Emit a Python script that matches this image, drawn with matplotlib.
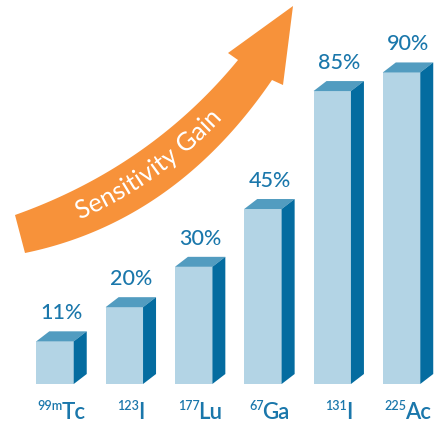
import numpy as np
import matplotlib
matplotlib.use('Agg')
import matplotlib.pyplot as plt
from matplotlib.patches import Polygon, PathPatch
from matplotlib.path import Path
from matplotlib.textpath import TextPath
from matplotlib.font_manager import FontProperties
from matplotlib.transforms import offset_copy

# data
isotopes = ['Tc', 'I', 'Lu', 'Ga', 'I', 'Ac']
mass_numbers = ['99m', '123', '177', '67', '131', '225']
gain_pct = [11, 20, 30, 45, 85, 90]
# heights as drawn (the two tallest bars are squeezed in the original)
bar_heights = [11, 19.8, 30.2, 45.1, 75.5, 80.3]

FRONT = '#b3d4e5'
TOP = '#529cc0'
SIDE = '#046ca0'
TEXT = '#1a77ab'
ORANGE = '#f7923a'
FONT = 'Lato'

plt.rcParams['font.family'] = [FONT, 'DejaVu Sans']

fig = plt.figure(figsize=(4.35, 4.23), dpi=100)
ax = fig.add_axes([0, 0, 1, 1])
ax.set_xlim(-0.794, 5.483)
ax.set_ylim(-10.05, 98.97)
ax.axis('off')

px_x = 435 / (5.483 + 0.794)   # pixels per x unit
px_y = 423 / (98.97 + 10.05)   # pixels per y unit
dx = 13 / px_x                 # depth of the fake 3d box
dy = 10 / px_y

x = np.arange(len(isotopes))
bars = ax.bar(x, bar_heights, width=0.54, color=FRONT, linewidth=0, zorder=2)

for rect, pct in zip(bars, gain_pct):
    x0 = rect.get_x()
    x1 = x0 + rect.get_width()
    h = rect.get_height()
    ax.add_patch(Polygon([(x0, h), (x1, h), (x1 + dx, h + dy), (x0 + dx, h + dy)],
                         closed=True, color=TOP, lw=0, zorder=2))
    ax.add_patch(Polygon([(x1, 0), (x1 + dx, dy), (x1 + dx, h + dy), (x1, h)],
                         closed=True, color=SIDE, lw=0, zorder=2))
    ax.text((x0 + x1 + dx) / 2, h + dy + 12 / px_y, f'{pct}%', ha='center',
            va='baseline', fontsize=15.5, fontweight=500, color=TEXT)

# isotope labels with small superscript mass numbers
renderer = fig.canvas.get_renderer()
base_y = -35 / px_y
gap = -1.5
for rect, sup, name in zip(bars, mass_numbers, isotopes):
    cx = rect.get_x() + (rect.get_width() + dx) / 2
    t_sup = ax.text(cx, base_y, sup, ha='left', va='baseline', fontsize=9,
                    fontweight=600, color=TEXT)
    t_main = ax.text(cx, base_y, name, ha='left', va='baseline', fontsize=16,
                     fontweight=600, color=TEXT)
    w_s = t_sup.get_window_extent(renderer).width
    w_m = t_main.get_window_extent(renderer).width
    total = w_s + gap + w_m
    t_sup.set_transform(offset_copy(ax.transData, fig=fig, x=-total / 2, y=9.5, units='dots'))
    t_main.set_transform(offset_copy(ax.transData, fig=fig, x=-total / 2 + w_s + gap, y=0,
                                     units='dots'))

# orange arrow, drawn in pixel space
ax2 = fig.add_axes([0, 0, 1, 1])
ax2.set_xlim(0, 435)
ax2.set_ylim(423, 0)
ax2.axis('off')
ax2.patch.set_visible(False)


def bez(p0, p1, p2, t):
    t = t[:, None]
    return (1 - t) ** 2 * np.array(p0) + 2 * t * (1 - t) * np.array(p1) + t ** 2 * np.array(p2)


t = np.linspace(0, 1, 200)
upper = bez((15, 215), (150, 167), (238, 60), t)
lower = bez((25, 253), (175, 222), (272, 80), t)
head = np.array([(228, 53), (293, 6), (283, 85)])
outline = np.vstack([upper, head, lower[::-1]])
ax2.add_patch(Polygon(outline, closed=True, color=ORANGE, lw=0))

# "Sensitivity Gain" bent along the middle of the arrow
mid = bez((20, 234), (162.5, 194.5), (255, 70), np.linspace(0, 1, 800))
seg = np.diff(mid, axis=0)
cum = np.concatenate([[0], np.cumsum(np.hypot(seg[:, 0], seg[:, 1]))])
tang = np.gradient(mid, axis=0)
tang /= np.hypot(tang[:, 0], tang[:, 1])[:, None]

tp = TextPath((0, 0), 'Sensitivity Gain', size=100, prop=FontProperties(family=FONT))
verts = tp.vertices / 100.0
umin, umax = verts[:, 0].min(), verts[:, 0].max()
text_len = 172
S = text_len / (umax - umin)
u = (verts[:, 0] - (umin + umax) / 2) * S
v = verts[:, 1] * S - 0.36 * S + 3

s_c = cum[np.argmin(np.hypot(mid[:, 0] - 149, mid[:, 1] - 168))]
s = s_c + u
px = np.interp(s, cum, mid[:, 0])
py = np.interp(s, cum, mid[:, 1])
tx = np.interp(s, cum, tang[:, 0])
ty = np.interp(s, cum, tang[:, 1])
X = px + v * ty
Y = py - v * tx
ax2.add_patch(PathPatch(Path(np.column_stack([X, Y]), tp.codes), facecolor='white', lw=0))

fig.savefig('out.png', dpi=100)
